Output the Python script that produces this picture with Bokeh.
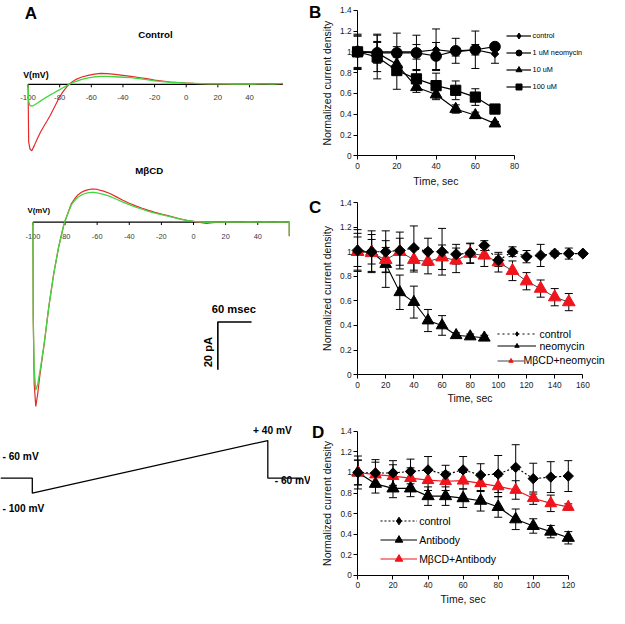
import math
from bokeh.plotting import figure
from bokeh.models import (Range1d, Label, Legend, LegendItem, Whisker, TeeHead,
                          ColumnDataSource, FixedTicker, CustomJSTickFormatter)
from bokeh.layouts import row, column
from bokeh.core.properties import value
from bokeh.embed import file_html
from bokeh.resources import INLINE

# ---------------- Panel A: ramp currents (mV vs pA) ----------------
V_TICKS = [-100, -80, -60, -40, -20, 0, 20, 40]

CTRL_V = [-100, -99.6, -98.8, -97.6, -96, -94, -92, -90, -88, -86, -84, -82, -80, -78, -76,
          -74, -72, -70, -66, -62, -58, -54, -50, -45, -40, -35, -30, -25, -20, -15,
          -10, -5, 0, 5, 10, 15, 20, 25, 30, 35, 40, 45, 50, 55, 61]
CTRL_RED = [0, -24.0, -27.0, -27.8, -25.5, -22.5, -19.8, -17.5, -15.3, -13.0, -10.4, -7.8, -5.2, -3.1, -1.4,
            0.1, 1.1, 2.0, 3.1, 3.8, 4.3, 4.6, 4.5, 4.2, 3.8, 3.4, 2.9, 2.4, 1.8, 1.4,
            1.0, 0.8, 0.6, 0.4, 0.3, 0.2, 0.2, 0.1, 0.1, 0.2, 0.1, 0.2, 0.3, 0.2, 0.3]
CTRL_GREEN = [0, -7.0, -8.8, -9.1, -8.6, -7.8, -6.9, -6.0, -5.2, -4.4, -3.7, -2.9, -2.2, -1.4, -0.7,
              0.0, 0.7, 1.2, 2.1, 2.7, 3.2, 3.4, 3.4, 3.2, 3.0, 2.8, 2.4, 2.0, 1.5, 1.2,
              0.9, 0.7, 0.5, 0.4, 0.3, 0.2, 0.2, 0.2, 0.1, 0.2, 0.1, 0.2, 0.2, 0.1, 0.4]

MBCD_V = [-100, -99.8, -99.2, -98.2, -97, -96, -95, -94, -93, -92, -91, -90, -89, -88, -87,
          -86, -85, -84, -83, -82, -81, -80, -78, -76, -74, -72, -70, -68, -66, -64,
          -62, -60, -56, -52, -48, -44, -40, -36, -32, -28, -24, -20, -16, -12, -8,
          -4, 0, 4, 8, 12, 16, 20, 25, 30, 35, 40, 45, 50, 55, 59.6, 59.6]
MBCD_RED = [0, -40, -68, -77.3, -72, -66, -61, -56, -51.3, -45.8, -40.4, -35, -30.5, -26, -21.5,
            -17.8, -14.2, -10.5, -7.6, -4.7, -1.8, 0.5, 4.2, 7.8, 9.8, 11.4, 12.4, 13.1, 13.5, 13.8,
            13.9, 13.7, 13.0, 12.0, 10.6, 9.2, 7.9, 6.8, 5.8, 4.9, 4.1, 3.4, 2.7, 2.0, 1.3,
            0.7, 0.3, -0.1, -0.5, -0.2, 0.0, 0.1, 0.0, 0.1, 0.0, 0.1, 0.0, 0.1, 0.0, 0.0, -5.9]
MBCD_GREEN = [0, -40, -62, -70.5, -68, -64, -60, -55.5, -51, -45.8, -40.4, -35, -30.5, -26, -21.5,
              -17.8, -14.2, -10.5, -7.6, -4.7, -1.8, 0.5, 4.0, 7.3, 9.0, 10.4, 11.3, 11.9, 12.3, 12.5,
              12.5, 12.3, 11.6, 10.8, 9.6, 8.4, 7.3, 6.3, 5.4, 4.5, 3.8, 3.1, 2.5, 1.9, 1.2,
              0.7, 0.3, 0.1, -0.1, 0.0, 0.0, 0.1, 0.0, 0.0, 0.1, 0.0, 0.1, 0.0, 0.1, 0.0, -5.4]

# voltage protocol (ms, mV)
PROTO_T = [0, 54, 54, 454, 454, 512]
PROTO_V = [-60, -60, -100, 40, -60, -60]
RAMP_MS = 400          # ramp -100 -> +40 mV
SCALE_MS = 60
SCALE_PA = 20

# ---------------- Panel B ----------------
B_T = [0, 10, 20, 30, 40, 50, 60, 70]
B_CONTROL = [1.00, 1.00, 1.00, 1.00, 1.02, 1.00, 1.02, 0.98]
B_CONTROL_ERR = [0.02, 0.10, 0.05, 0.07, 0.20, 0.04, 0.05, 0.09]
B_NEO1 = [1.00, 0.99, 0.99, 0.99, 0.96, 1.01, 1.02, 1.05]
B_NEO1_ERR = [0.16, 0.18, 0.19, 0.17, 0.13, 0.12, 0.18, 0.03]
B_NEO10 = [1.00, 0.99, 0.88, 0.66, 0.59, 0.45, 0.39, 0.31]
B_NEO10_ERR = [0.15, 0.10, 0.08, 0.05, 0.05, 0.04, 0.03, 0.02]
B_NEO100 = [1.00, 0.95, 0.82, 0.74, 0.675, 0.63, 0.565, 0.45]
B_NEO100_ERR = [0.17, 0.21, 0.18, 0.09, 0.12, 0.09, 0.08, 0.02]

# ---------------- Panel C ----------------
C_T_CTRL = [0, 10, 20, 30, 40, 50, 60, 70, 80, 90, 100, 110, 120, 130, 140, 150, 160]
C_CONTROL = [1.01, 1.00, 1.00, 1.01, 1.03, 1.00, 1.00, 0.98, 0.99, 1.05, 0.93, 1.00, 0.96, 0.97, 0.985, 0.985, 0.985]
C_CONTROL_ERR = [0.17, 0.17, 0.17, 0.15, 0.18, 0.11, 0.19, 0.08, 0.08, 0.04, 0.05, 0.04, 0.05, 0.09, 0.02, 0.045, 0.01]
C_T_NEO = [0, 10, 20, 30, 40, 50, 60, 70, 80, 90]
C_NEO = [1.00, 1.00, 0.90, 0.67, 0.59, 0.44, 0.40, 0.32, 0.31, 0.30]
C_NEO_ERR = [0.12, 0.10, 0.19, 0.14, 0.13, 0.09, 0.08, 0.02, 0.02, 0.02]
C_T_MBCD = [0, 10, 20, 30, 40, 50, 60, 70, 80, 90, 100, 110, 120, 130, 140, 150]
C_MBCD = [1.00, 0.99, 0.935, 1.00, 0.935, 0.92, 0.955, 0.93, 0.985, 0.97, 0.915, 0.845, 0.76, 0.70, 0.63, 0.59]
C_MBCD_ERR = [0.15, 0.15, 0.10, 0.11, 0.10, 0.10, 0.10, 0.10, 0.08, 0.09, 0.08, 0.08, 0.07, 0.07, 0.07, 0.07]

# ---------------- Panel D ----------------
D_T = [0, 10, 20, 30, 40, 50, 60, 70, 80, 90, 100, 110, 120]
D_CONTROL = [1.00, 0.995, 0.995, 1.01, 1.025, 0.98, 1.025, 0.975, 0.985, 1.05, 0.94, 0.955, 0.965]
D_CONTROL_ERR = [0.16, 0.13, 0.12, 0.12, 0.13, 0.09, 0.13, 0.11, 0.18, 0.22, 0.15, 0.15, 0.15]
D_AB = [1.00, 0.89, 0.845, 0.845, 0.77, 0.77, 0.75, 0.725, 0.665, 0.545, 0.48, 0.425, 0.365]
D_AB_ERR = [0.12, 0.09, 0.09, 0.08, 0.09, 0.09, 0.09, 0.10, 0.10, 0.10, 0.07, 0.06, 0.06]
D_MBCD_AB = [1.00, 0.98, 0.965, 0.945, 0.925, 0.915, 0.92, 0.895, 0.865, 0.83, 0.75, 0.70, 0.665]
D_MBCD_AB_ERR = [0.12, 0.12, 0.11, 0.10, 0.10, 0.09, 0.08, 0.08, 0.10, 0.09, 0.06, 0.08, 0.03]

Y_TICKS = [0, 0.2, 0.4, 0.6, 0.8, 1.0, 1.2, 1.4]
B_X_TICKS = [0, 20, 40, 60, 80]
C_X_TICKS = [0, 20, 40, 60, 80, 100, 120, 140, 160]
D_X_TICKS = [0, 20, 40, 60, 80, 100, 120]
X_LABEL = "Time, sec"
Y_LABEL = "Normalized current density"

# ---------------- styling / geometry ----------------
S = 0.974
FONT = "Liberation Sans"
TRACE_RED = "#e52a2a"
TRACE_GREEN = "#3fd83f"
PT_RED = "#f0141c"
PX_PA = 2.45


def px(v):
    return int(round(v * S))


def fs(v):
    return f"{v * S:.1f}px"


def base_fig(box, xr, yr, axes=False):
    x0, y0, x1, y1 = box
    kw = dict(width=px(x1) - px(x0), height=px(y1) - px(y0), x_range=xr, y_range=yr,
              output_backend="svg", toolbar_location=None, title=None,
              min_border_left=0, min_border_right=0, min_border_top=0, min_border_bottom=0)
    if not axes:
        kw.update(x_axis_type=None, y_axis_type=None)
    p = figure(**kw)
    try:
        p.frame_align = False
    except Exception:
        pass
    p.outline_line_color = None
    p.background_fill_color = "white"
    p.border_fill_color = "white"
    p.grid.visible = False
    return p


def add_label(p, box, rx, ry, text, size, bold=False, align="left", baseline="middle",
              angle=0.0, color="black"):
    x0, y0, x1, y1 = box
    p.add_layout(Label(x=(rx - x0) * S, y=(y1 - ry) * S, x_units="screen", y_units="screen",
                       text=text, text_font=FONT, text_font_size=fs(size),
                       text_font_style="bold" if bold else "normal",
                       text_align=align, text_baseline=baseline, angle=angle,
                       text_color=color))


def trace_panel(box, v0_x, px_mv, zero_y, volts, red, green, tick_dy, tick_size):
    x0, y0, x1, y1 = box
    v_start = V_TICKS[0]
    xr = Range1d(v_start - (v0_x - x0) / px_mv, v_start + (x1 - v0_x) / px_mv)
    yr = Range1d(-(y1 - zero_y) / PX_PA, (zero_y - y0) / PX_PA)
    p = base_fig(box, xr, yr)
    n = len(V_TICKS)
    p.line([v_start, volts[-1]], [0, 0], line_color="black", line_width=1.1)
    p.segment(x0=V_TICKS, y0=[0] * n, x1=V_TICKS, y1=[-3.0 / PX_PA] * n,
              line_color="black", line_width=1)
    p.text(x=V_TICKS, y=[0] * n, text=[str(v) for v in V_TICKS], y_offset=tick_dy * S,
           text_font=value(FONT), text_font_size=value(fs(tick_size)), text_color="#3a3a3a",
           text_align="center", text_baseline="middle")
    p.line(volts, red, line_color=TRACE_RED, line_width=1.2)
    p.line(volts, green, line_color=TRACE_GREEN, line_width=1.3)
    return p


# ---- A1: control trace ----
A1_BOX = (0, 0, 300, 165)
a1 = trace_panel(A1_BOX, 28.3, 1.625, 86.0, CTRL_V, CTRL_RED, CTRL_GREEN, 13.3, 8.0)
add_label(a1, A1_BOX, 25, 13, "A", 17.5, bold=True)
add_label(a1, A1_BOX, 159, 35, "Control", 10, bold=True, align="center")
add_label(a1, A1_BOX, 23.3, 76, "V(mV)", 9, bold=True)

# ---- A2: MbCD trace + scale bar ----
A2_BOX = (0, 165, 300, 424)
A2_V0_X, A2_PX_MV, A2_ZERO_Y = 33.3, 1.65, 227.3
a2 = trace_panel(A2_BOX, A2_V0_X, A2_PX_MV, A2_ZERO_Y, MBCD_V, MBCD_RED, MBCD_GREEN, 14.4, 7.6)
add_label(a2, A2_BOX, 152.7, 174.3, "MβCD", 10, bold=True, align="center")
add_label(a2, A2_BOX, 27.7, 215.7, "V(mV)", 8, bold=True)
corner_v = V_TICKS[0] + (223.3 - A2_V0_X) / A2_PX_MV
corner_i = -(330.0 - A2_ZERO_Y) / PX_PA
bar_mv = SCALE_MS * (V_TICKS[-1] - V_TICKS[0]) / RAMP_MS
a2.line([corner_v + bar_mv, corner_v, corner_v], [corner_i, corner_i, corner_i - SCALE_PA],
        line_color="black", line_width=1.6)
add_label(a2, A2_BOX, 239.5, 316.7, "60 msec", 11.5, bold=True, align="center")
add_label(a2, A2_BOX, 213.3, 361, "20 pA", 11.5, bold=True, align="center", angle=math.pi / 2)

# ---- protocol ----
P_BOX = (0, 424, 318, 624)
P_PX_MS, P_PX_MV, P_VMIN_Y = 0.604, 0.3857, 505.7
v_min = min(PROTO_V)
pp = base_fig(P_BOX, Range1d(0, (P_BOX[2] - P_BOX[0]) / P_PX_MS),
              Range1d(v_min - (P_BOX[3] - P_VMIN_Y) / P_PX_MV, v_min + (P_VMIN_Y - P_BOX[1]) / P_PX_MV))
pp.line(PROTO_T, PROTO_V, line_color="black", line_width=1.3)
add_label(pp, P_BOX, 2, 468, "- 60 mV", 10.5, bold=True)
add_label(pp, P_BOX, 2, 521.7, "- 100 mV", 10.5, bold=True)
add_label(pp, P_BOX, 259.3, 441.7, "+ 40 mV", 10.5, bold=True)
add_label(pp, P_BOX, 281.5, 493, "- 60 mV", 10.5, bold=True)


# ---------------- time-course charts ----------------
def chart(box, axes_box, xticks, letter, letter_xy, xlabel_y):
    x0, y0, x1, y1 = box
    fl, ft, fr, fb = axes_box            # where (0..xmax, 0..1.4) sits
    xmax, ymax = xticks[-1], Y_TICKS[-1]
    kx, ky = (fr - fl) / xmax, (fb - ft) / ymax
    xr = Range1d(-(fl - x0) / kx, xmax + (x1 - fr) / kx)
    yr = Range1d(-(y1 - fb) / ky, ymax + (ft - y0) / ky)
    p = base_fig(box, xr, yr, axes=True)
    p.xaxis.fixed_location = 0
    p.yaxis.fixed_location = 0
    p.xaxis.bounds = (0, xmax)
    p.yaxis.bounds = (0, ymax)
    p.xaxis.ticker = FixedTicker(ticks=xticks)
    p.yaxis.ticker = FixedTicker(ticks=Y_TICKS)
    p.yaxis.formatter = CustomJSTickFormatter(code="return String(Math.round(tick * 10) / 10);")
    for ax in (p.xaxis[0], p.yaxis[0]):
        ax.axis_line_color = "black"
        ax.axis_line_width = 1
        ax.major_tick_line_color = "black"
        ax.major_tick_out = 4
        ax.major_tick_in = 0
        ax.minor_tick_line_color = None
        ax.major_label_text_font = FONT
        ax.major_label_text_font_size = fs(8.5)
        ax.major_label_text_color = "#222222"
    p.xaxis.major_label_standoff = 3
    p.yaxis.major_label_standoff = 2
    add_label(p, box, (fl + fr) / 2, xlabel_y, X_LABEL, 10.8, align="center", color="#111111")
    add_label(p, box, 335, (ft + fb) / 2, Y_LABEL, 10.8, align="center", angle=math.pi / 2,
              color="#111111")
    add_label(p, box, letter_xy[0], letter_xy[1], letter, 17.5, bold=True)
    return p


def series(p, t, y, err, marker, size, color, line_color, dash="solid", lw=1.2, angle=0.0,
           legend_marker=None):
    src = ColumnDataSource(dict(t=t, up=[a + e for a, e in zip(y, err)],
                                lo=[a - e for a, e in zip(y, err)]))
    p.add_layout(Whisker(source=src, base="t", upper="up", lower="lo",
                         line_color="black", line_width=1, level="underlay",
                         upper_head=TeeHead(size=px(8), line_color="black", line_width=1),
                         lower_head=TeeHead(size=px(8), line_color="black", line_width=1)))
    rl = p.line(t, y, line_color=line_color, line_width=lw, line_dash=dash)
    rs = p.scatter(t, y, marker=marker, size=size * S, fill_color=color, line_color=color,
                   angle=angle)
    if legend_marker is not None:
        # zero-size twin of the series, so that the legend shows an upright diamond
        rs = p.scatter(t, y, marker=legend_marker, size=0, fill_color=color, line_color=color)
    return [rl, rs]


def make_legend(p, box, entries, x_left, top_center, h, pitch, glyph_w, font_size,
                standoff=2):
    x0, y0, x1, y1 = box
    h_real = px(h)
    sp = max(0, int(round(pitch * S)) - h_real)
    n = len(entries)
    total = n * h_real + (n - 1) * sp
    top_real = (top_center - y0) * S - h_real / 2
    vy = (y1 - y0) * S - (top_real + total)
    vx = (x_left - x0) * S
    lg = Legend(items=[LegendItem(label=lab, renderers=rs) for lab, rs in entries],
                location=(vx, vy), orientation="vertical",
                glyph_width=px(glyph_w), glyph_height=h_real, label_height=h_real,
                spacing=sp, padding=0, margin=0, border_line_color=None,
                background_fill_alpha=0, label_standoff=int(round(standoff * S)),
                label_text_font=FONT, label_text_font_size=fs(font_size),
                label_text_color="black")
    p.add_layout(lg)


DIAMOND = dict(marker="square", angle=math.pi / 4, legend_marker="diamond")

# ---- B ----
B_BOX = (300, 0, 625, 200)
pb = chart(B_BOX, (366.7, 10.0, 527.7, 159.3), B_X_TICKS, "B", (317, 12), 185)
rb1 = series(pb, B_T, B_CONTROL, B_CONTROL_ERR, size=5.5, color="black", line_color="black", **DIAMOND)
rb2 = series(pb, B_T, B_NEO1, B_NEO1_ERR, "circle", 11, "black", "black")
rb3 = series(pb, B_T, B_NEO10, B_NEO10_ERR, "triangle", 12, "black", "black")
rb4 = series(pb, B_T, B_NEO100, B_NEO100_ERR, "square", 10.5, "black", "black")
make_legend(pb, B_BOX, [("control", rb1), ("1 uM neomycin", rb2), ("10 uM", rb3), ("100 uM", rb4)],
            519.3, 36.7, 15, 17.5, 26, 7.5)

# ---- C ----
C_BOX = (300, 200, 625, 424)
pc = chart(C_BOX, (366.7, 207.3, 597.7, 384.0), C_X_TICKS, "C", (317, 212), 408.3)
rc2 = series(pc, C_T_NEO, C_NEO, C_NEO_ERR, "triangle", 12, "black", "black", lw=1.1)
rc3 = series(pc, C_T_MBCD, C_MBCD, C_MBCD_ERR, "triangle", 13, PT_RED, "#444444", lw=1.0)
rc1 = series(pc, C_T_CTRL, C_CONTROL, C_CONTROL_ERR, size=8, color="black", line_color="black",
             dash="2 3", lw=1.2, **DIAMOND)
make_legend(pc, C_BOX, [("control", rc1), ("neomycin", rc2)], 510, 344.3, 11.4, 11.4, 40, 10.8,
            standoff=4.3)
make_legend(pc, C_BOX, [("MβCD+neomycin", rc3)], 510, 370.5, 11.4, 11.4, 28, 10.8,
            standoff=0)

# ---- D ----
D_BOX = (318, 424, 625, 624)
pd_ = chart(D_BOX, (366.7, 442.3, 582.7, 590.0), D_X_TICKS, "D", (319.5, 443), 614)
rd2 = series(pd_, D_T, D_AB, D_AB_ERR, "triangle", 12.5, "black", "black")
rd3 = series(pd_, D_T, D_MBCD_AB, D_MBCD_AB_ERR, "triangle", 12, PT_RED, PT_RED)
rd1 = series(pd_, D_T, D_CONTROL, D_CONTROL_ERR, size=7.5, color="black", line_color="black",
             dash="2 2", lw=1.1, **DIAMOND)
make_legend(pd_, D_BOX, [("control", rd1), ("Antibody", rd2), ("MβCD+Antibody", rd3)],
            390, 534.3, 19, 19, 38, 10.8, standoff=2)

layout = column(row(column(a1, a2), column(pb, pc)), row(pp, pd_))

with open("out.html", "w") as f:
    f.write(file_html(layout, INLINE))
